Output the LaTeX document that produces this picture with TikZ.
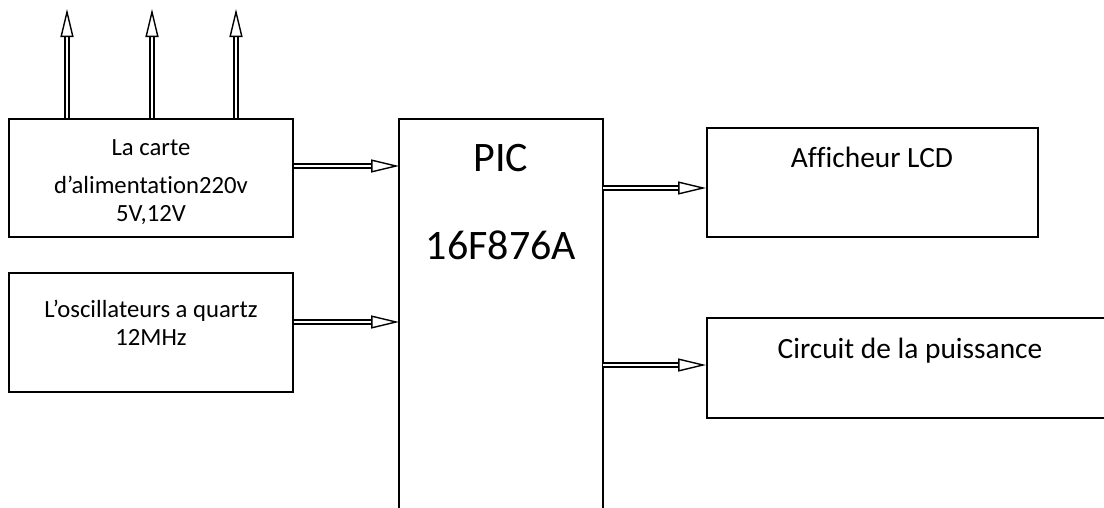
\documentclass[tikz,border=0pt]{standalone}
\usepackage{fontspec}
\setmainfont{Carlito}[Ligatures=CommonOff]
\usetikzlibrary{arrows.meta, positioning}

\begin{document}
\begin{tikzpicture}[
    x=1pt, y=-1pt,
    box/.style={draw, rectangle, line width=1.8pt, minimum width=284pt, minimum height=118pt, inner sep=0pt},
    txt/.style={anchor=base, align=center, inner sep=0pt},
    arrow/.style={double, line width=1.6pt, double distance=2.6pt, -{Triangle[open, length=28pt, width=13pt, line width=1.4pt]}}
]
    \useasboundingbox (0,0) rectangle (1104,507);
    \clip (0,0) rectangle (1104,507);

    % blocks
    \node[box] (supply) at (151,178) {};
    \node[box, minimum height=119pt] (osc) at (151,332.5) {};
    \node[box, draw=none, minimum width=202pt, minimum height=400pt] (pic) at (501,320) {};
    \draw[line width=1.8pt] (pic.south west) -- (pic.north west) -- (pic.north east) -- (pic.south east);
    \node[box, minimum width=331pt, minimum height=109pt] (lcd) at (872.5,182.5) {};
    \node[box, minimum width=430pt, minimum height=100pt] (power) at (922,368) {};

    % texts (base = last line)
    \node[txt, font=\fontsize{24.7}{28}\selectfont] (supplytxt) at (151,221) {La carte\\[10pt]d’alimentation220v\\5V,12V};
    \node[txt, font=\fontsize{24.7}{28}\selectfont] (osctxt) at (151,345) {L’oscillateurs a quartz\\12MHz};
    \node[txt, font=\fontsize{42}{88}\selectfont] (pictxt) at (501,259) {PIC\\16F876A};
    \node[txt, font=\fontsize{29.4}{34}\selectfont] (lcdtxt) at (872,167) {Afficheur LCD};
    \node[txt, font=\fontsize{29.4}{34}\selectfont] (powertxt) at (910,358) {Circuit de la puissance};

    % outputs of the supply
    \foreach \x/\n in {67/1, 152/2, 236/3} {
        \coordinate (out\n) at (\x,9);
        \draw[arrow] (out\n |- supply.north) -- (out\n);
    }

    \draw[arrow] (supply.east |- 0,166) -- (pic.west |- 0,166);
    \draw[arrow] (osc.east |- 0,322) -- (pic.west |- 0,322);
    \draw[arrow] (pic.east |- 0,188) -- (lcd.west |- 0,188);
    \draw[arrow] (pic.east |- 0,365) -- (power.west |- 0,365);

\end{tikzpicture}
\end{document}
